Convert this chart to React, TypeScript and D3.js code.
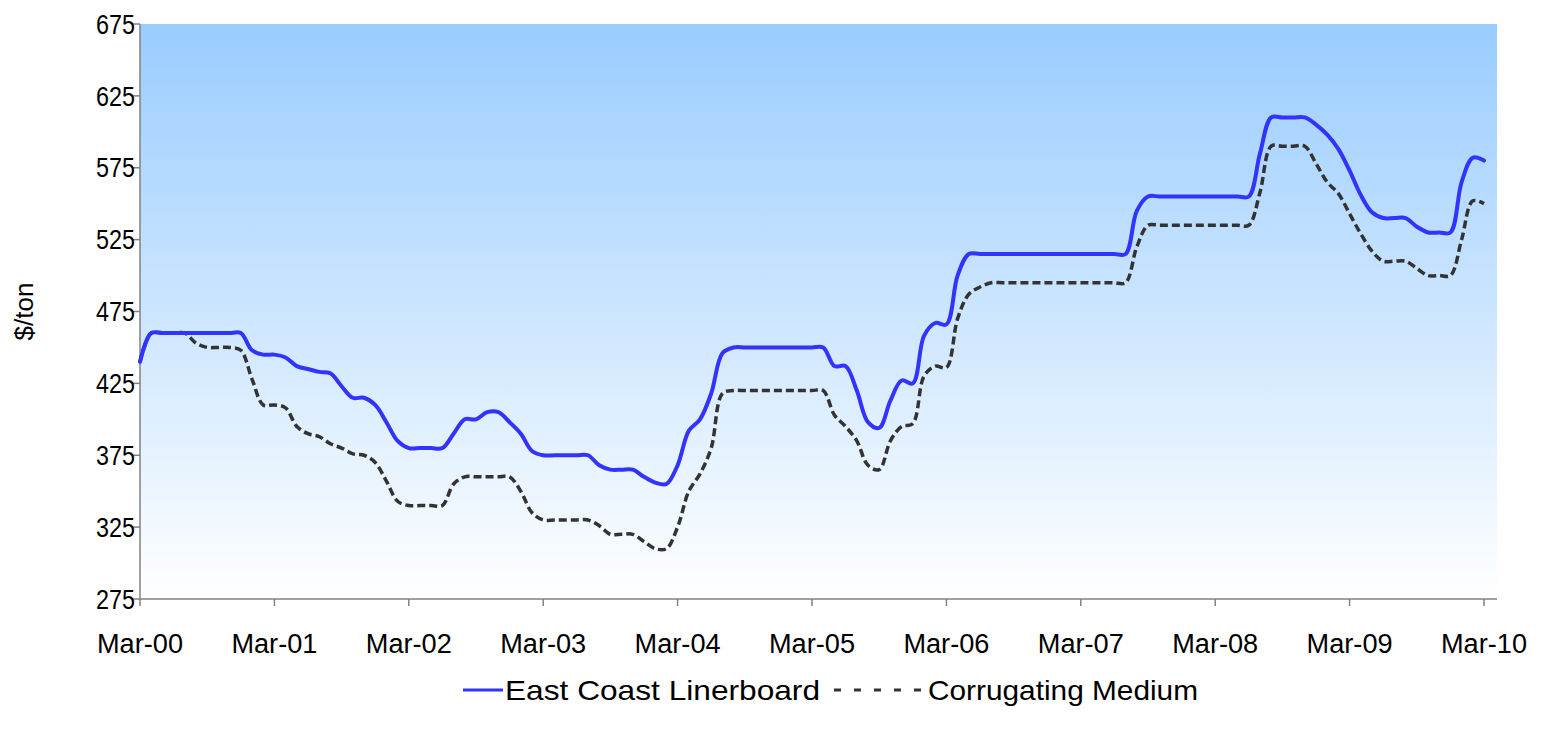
import React from 'react';
import * as d3 from 'd3';

// monthly prices, Mar-00 .. Mar-10
const linerboard = [
  440, 460, 460, 460, 460, 460, 460, 460, 460, 460,
  448, 445, 445, 443, 437, 435, 433, 432, 423, 415,
  415, 410, 398, 385, 380, 380, 380, 380, 390, 400,
  400, 405, 405, 398, 390, 378, 375, 375, 375, 375,
  375, 368, 365, 365, 365, 360, 356, 355, 368, 392,
  400, 418, 446, 450, 450, 450, 450, 450, 450, 450,
  450, 450, 437, 437, 420, 398, 394, 413, 427, 425,
  458, 467, 466, 500, 515, 515, 515, 515, 515, 515,
  515, 515, 515, 515, 515, 515, 515, 515, 515, 545,
  555, 555, 555, 555, 555, 555, 555, 555, 555, 555,
  585, 610, 610, 610, 610, 605, 598, 588, 573, 556,
  544, 540, 540, 540, 534, 530, 530, 530, 565, 582,
  580,
];

const medium = [
  440, 460, 460, 460, 460, 453, 450, 450, 450, 448,
  428, 410, 410, 408, 395, 390, 388, 383, 380, 376,
  375, 370, 357, 343, 340, 340, 340, 340, 355, 360,
  360, 360, 360, 360, 350, 335, 330, 330, 330, 330,
  330, 326, 320, 320, 320, 315, 310, 310, 325, 350,
  362, 380, 418, 420, 420, 420, 420, 420, 420, 420,
  420, 420, 403, 395, 385, 368, 365, 385, 395, 397,
  430, 437, 436, 470, 487, 492, 495, 495, 495, 495,
  495, 495, 495, 495, 495, 495, 495, 495, 495, 520,
  535, 535, 535, 535, 535, 535, 535, 535, 535, 535,
  558, 590, 590, 590, 590, 578, 565, 557, 543, 529,
  517, 510, 510, 510, 505, 500, 500, 500, 525, 552,
  550,
];

const xLabels = ['Mar-00', 'Mar-01', 'Mar-02', 'Mar-03', 'Mar-04', 'Mar-05', 'Mar-06', 'Mar-07', 'Mar-08', 'Mar-09', 'Mar-10'];
const yTicks = [275, 325, 375, 425, 475, 525, 575, 625, 675];

const W = 1547;
const H = 735;
const plot = { left: 140, top: 24, right: 1497, bottom: 599 };
const font = '"Liberation Sans", Arial, sans-serif';

export default function App() {
  const x = d3.scaleLinear().domain([0, 120]).range([plot.left, 1484]);
  const y = d3.scaleLinear().domain([275, 675]).range([plot.bottom, plot.top]);

  const line = d3
    .line<number>()
    .x((_, i) => x(i))
    .y((d) => y(d))
    .curve(d3.curveCatmullRom.alpha(0.5));

  return (
    <svg
      width={W}
      height={H}
      style={{ position: 'absolute', left: 0, top: 0, background: '#fff' }}
    >
      <defs>
        <linearGradient id="bg" x1="0" y1="0" x2="0" y2="1">
          <stop offset="0%" stopColor="#99CCFF" />
          <stop offset="100%" stopColor="#FFFFFF" />
        </linearGradient>
      </defs>
      <rect
        x={plot.left}
        y={plot.top}
        width={plot.right - plot.left}
        height={plot.bottom - plot.top}
        fill="url(#bg)"
      />

      <g className="axis" stroke="#808080" strokeWidth={1.5}>
        <line x1={plot.left} x2={plot.left} y1={plot.top} y2={plot.bottom} />
        <line x1={plot.left} x2={plot.right} y1={plot.bottom} y2={plot.bottom} />
        {yTicks.map((t) => (
          <line key={t} x1={plot.left - 7} x2={plot.left} y1={y(t)} y2={y(t)} />
        ))}
        {xLabels.map((_, i) => (
          <line key={i} x1={x(i * 12)} x2={x(i * 12)} y1={plot.bottom} y2={plot.bottom + 7} />
        ))}
      </g>

      <g className="labels" fontFamily={font} fill="#000">
        {yTicks.map((t) => (
          <text
            key={t}
            x={plot.left - 5}
            y={y(t)}
            dy="0.36em"
            textAnchor="end"
            fontSize={27}
            textLength={39}
            lengthAdjust="spacingAndGlyphs"
          >
            {t}
          </text>
        ))}
        {xLabels.map((l, i) => (
          <text
            key={l}
            x={x(i * 12)}
            y={653}
            textAnchor="middle"
            fontSize={27}
            textLength={86}
            lengthAdjust="spacingAndGlyphs"
          >
            {l}
          </text>
        ))}
        <text
          transform={`translate(33, ${(plot.top + plot.bottom) / 2}) rotate(-90)`}
          textAnchor="middle"
          fontSize={26}
        >
          $/ton
        </text>
      </g>

      <path
        d={line(medium) || ''}
        fill="none"
        stroke="#333333"
        strokeWidth={3.5}
        strokeDasharray="8,4"
      />
      <path
        d={line(linerboard) || ''}
        fill="none"
        stroke="#3333FF"
        strokeWidth={4}
        strokeLinejoin="round"
        strokeLinecap="round"
      />

      <g className="legend" fontFamily={font} fontSize={28}>
        <line x1={463} x2={503} y1={690} y2={690} stroke="#3333FF" strokeWidth={3} />
        <text x={505} y={700} textLength={315} lengthAdjust="spacingAndGlyphs">
          East Coast Linerboard
        </text>
        <line x1={834} x2={926} y1={690} y2={690} stroke="#333333" strokeWidth={3} strokeDasharray="7,13" />
        <text x={928} y={700} textLength={270} lengthAdjust="spacingAndGlyphs">
          Corrugating Medium
        </text>
      </g>
    </svg>
  );
}
